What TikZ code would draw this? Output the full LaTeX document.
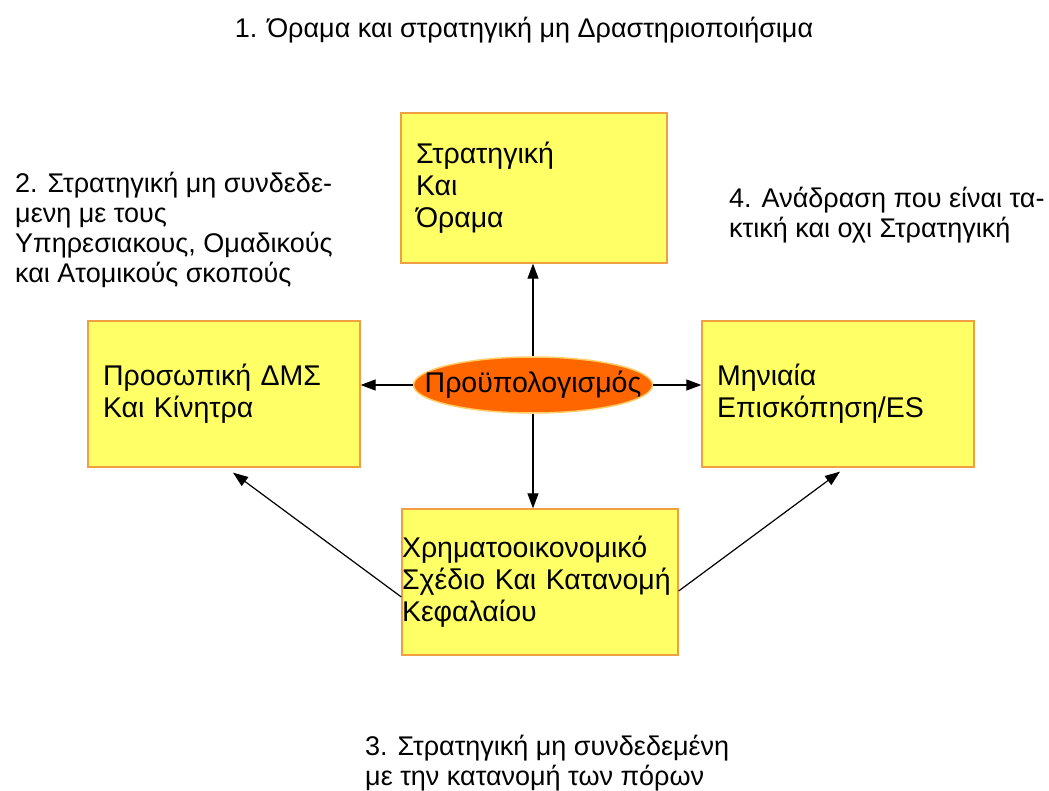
\documentclass[tikz,border=0pt]{standalone}
\usepackage{fontspec}
\setmainfont{Liberation Sans}
\usetikzlibrary{arrows.meta,shapes.geometric}
\definecolor{boxfill}{HTML}{FFFF66}
\definecolor{boxline}{HTML}{F0A040}
\definecolor{ovalfill}{HTML}{FF6600}
\definecolor{ovalline}{HTML}{FFCC66}
\begin{document}
\begin{tikzpicture}[x=1pt,y=-1pt,
  txt/.style={font=\fontsize{27}{30}\selectfont, align=left, inner sep=0pt},
  card/.style={draw=boxline, fill=boxfill, line width=1.3pt, align=left, inner ysep=0pt,
    inner xsep=15pt, font=\fontsize{28.5}{32}\selectfont},
  oval/.style={ellipse, draw=ovalline, fill=ovalfill, line width=1.5pt,
    inner xsep=-40pt, inner ysep=-10pt,
    minimum width=239pt, minimum height=56pt, font=\fontsize{28.5}{32}\selectfont},
  link/.style={line width=1.2pt, -{Triangle[length=15pt,width=11pt]}}]
\useasboundingbox (0,0) rectangle (1049,791);
\fill[white] (0,0) rectangle (1049,791);

% boxes
\node[card, text width=236pt, minimum height=150pt] (top) at (534,188)
  {Στρατηγική\\Και\\Όραμα};
\node[card, text width=242pt, minimum height=146pt] (left) at (224,394)
  {Προσωπική ΔΜΣ\\Και Κίνητρα};
\node[card, text width=242pt, minimum height=146pt] (right) at (838,394)
  {Μηνιαία\\Επισκόπηση/ES};
\node[card, inner xsep=0pt, text width=276pt, minimum height=146pt] (bottom) at (540,582)
  {Χρηματοοικονομικό\\Σχέδιο Και Κατανομή\\Κεφαλαίου};

% centre
\node[oval] (budget) at (533,385) {Προϋπολογισμός};

% connectors
\draw[link] (budget.north) -- (budget.north |- top.south);
\draw[link] (budget.south) -- (budget.south |- bottom.north);
\draw[link] (budget.west) -- (budget.west -| left.east);
\draw[link] (budget.east) -- (budget.east -| right.west);
\coordinate (bl) at ([yshift=-15pt]bottom.west);
\coordinate (br) at ([yshift=-9pt]bottom.east);
\coordinate (lt) at ([xshift=9pt,yshift=-5pt]left.south);
\coordinate (rt) at ([xshift=2pt,yshift=-4pt]right.south);
\draw[link] (bl) -- (lt);
\draw[link] (br) -- (rt);

% annotations
\node[txt] (n1) at (524,30) {1. Όραμα και στρατηγική μη Δραστηριοποιήσιμα};
\node[txt, anchor=north west] (n2) at (15,172)
  {2. Στρατηγική μη συνδεδε-\\μενη με τους\\Υπηρεσιακους, Ομαδικούς\\και Ατομικούς σκοπούς};
\node[txt, anchor=north west] (n4) at (729,187)
  {4. Ανάδραση που είναι τα-\\κτική και οχι Στρατηγική};
\node[txt, anchor=north west] (n3) at (365,735)
  {3. Στρατηγική μη συνδεδεμένη\\με την κατανομή των πόρων};
\end{tikzpicture}
\end{document}
